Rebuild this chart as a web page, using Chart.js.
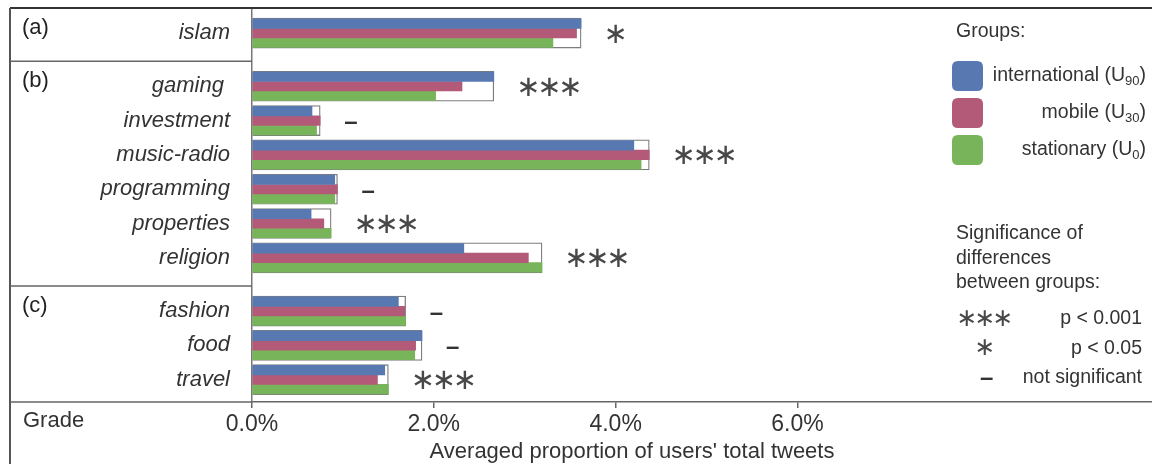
<!DOCTYPE html>
<html><head><meta charset="utf-8">
<script src="https://cdn.jsdelivr.net/npm/chart.js@4.4.1/dist/chart.umd.min.js"></script>
<style>html,body{margin:0;padding:0;background:#fff;overflow:hidden}#wrap{position:relative;width:1152px;height:464px}</style>
</head><body><div id="wrap"><canvas id="c" width="1152" height="464"></canvas></div>
<script>
// ---- data ----
const categories = ['islam', 'gaming ', 'investment', 'music-radio', 'programming', 'properties', 'religion', 'fashion', 'food', 'travel'];
const categoryGroup = [0, 1, 1, 1, 1, 1, 1, 2, 2, 2];
const groupLabels = ['(a)', '(b)', '(c)'];
const international = [3.62, 2.66, 0.66, 4.20, 0.91, 0.65, 2.33, 1.61, 1.87, 1.46];
const mobile        = [3.57, 2.31, 0.75, 4.37, 0.94, 0.79, 3.04, 1.68, 1.80, 1.38];
const stationary    = [3.31, 2.02, 0.71, 4.28, 0.91, 0.87, 3.19, 1.69, 1.79, 1.50];
const highestGroup  = [3.62, 2.66, 0.75, 4.37, 0.94, 0.87, 3.19, 1.69, 1.87, 1.50];
const significance  = ['*', '***', '-', '***', '-', '***', '***', '-', '-', '***'];
const xTickValues = [0, 2, 4, 6];
const seriesNames = ['international (U', 'mobile (U', 'stationary (U'];
const seriesSubs = ['90', '30', '0'];
const sigLegend = [['***', 'p < 0.001'], ['*', 'p < 0.05'], ['-', 'not significant']];

// ---- styling / layout ----
const COLORS = ['#5878b2', '#b35a78', '#78b45a'];
const TEXT = '#333333';
const FONT = '"Liberation Sans", Arial, sans-serif';
const GROUP_GAP = 0.55;
const positions = categories.map((c, i) => i + categoryGroup[i] * GROUP_GAP);

function toPoints(arr) { return arr.map((v, i) => ({ x: v, y: positions[i] })); }

const seriesData = [international, mobile, stationary];
const datasets = seriesData.map((arr, k) => ({
  label: seriesNames[k] + seriesSubs[k] + ')',
  data: toPoints(arr),
  backgroundColor: COLORS[k],
  borderWidth: 0,
  barThickness: 9.5,
  order: 0
}));
datasets.push({
  label: 'max',
  data: toPoints(highestGroup),
  backgroundColor: '#ffffff',
  borderColor: '#7d7d7d',
  borderWidth: 1.3,
  borderSkipped: false,
  barThickness: 30,
  grouped: false,
  order: 5
});

function drawStars(ctx, n, x0, y, spacing, size) {
  ctx.save();
  ctx.font = size + 'px "DejaVu Sans"';
  ctx.textAlign = 'center';
  ctx.textBaseline = 'middle';
  ctx.fillStyle = '#484848';
  for (let k = 0; k < n; k++) ctx.fillText('\u2217', x0 + spacing / 2 + k * spacing, y);
  ctx.restore();
}
function drawDash(ctx, x0, y) {
  ctx.save();
  ctx.font = 'bold 24px ' + FONT;
  ctx.textAlign = 'left';
  ctx.textBaseline = 'middle';
  ctx.fillStyle = TEXT;
  ctx.fillText('\u2013', x0, y);
  ctx.restore();
}
function drawSymbol(ctx, s, x0, y, spacing, size) {
  if (s === '-') drawDash(ctx, x0, y);
  else drawStars(ctx, s.length, x0, y, spacing, size);
}
function rrect(ctx, x, y, w, h, r) {
  ctx.beginPath();
  ctx.moveTo(x + r, y); ctx.lineTo(x + w - r, y); ctx.quadraticCurveTo(x + w, y, x + w, y + r);
  ctx.lineTo(x + w, y + h - r); ctx.quadraticCurveTo(x + w, y + h, x + w - r, y + h);
  ctx.lineTo(x + r, y + h); ctx.quadraticCurveTo(x, y + h, x, y + h - r);
  ctx.lineTo(x, y + r); ctx.quadraticCurveTo(x, y, x + r, y); ctx.closePath();
}

const decorations = {
  id: 'decorations',
  afterDraw(chart) {
    const ctx = chart.ctx;
    const xs = chart.scales.x, ys = chart.scales.y;
    const ca = chart.chartArea;
    ctx.save();
    // frame lines
    ctx.strokeStyle = '#333'; ctx.lineWidth = 2;
    ctx.beginPath(); ctx.moveTo(10, ca.top); ctx.lineTo(1152, ca.top); ctx.stroke();
    ctx.strokeStyle = '#555'; ctx.lineWidth = 2;
    ctx.beginPath(); ctx.moveTo(10, ca.top); ctx.lineTo(10, 464); ctx.stroke();
    ctx.strokeStyle = '#666'; ctx.lineWidth = 1.5;
    ctx.beginPath(); ctx.moveTo(10, ca.bottom); ctx.lineTo(ca.left, ca.bottom); ctx.stroke();
    for (let i = 1; i < categories.length; i++) {
      if (categoryGroup[i] !== categoryGroup[i - 1]) {
        const y = (ys.getPixelForValue(positions[i]) + ys.getPixelForValue(positions[i - 1])) / 2 + 1.5;
        ctx.beginPath(); ctx.moveTo(10, y); ctx.lineTo(ca.left, y); ctx.stroke();
      }
    }
    // group labels
    ctx.fillStyle = '#222'; ctx.font = '22px ' + FONT; ctx.textAlign = 'left'; ctx.textBaseline = 'middle';
    groupLabels.forEach((g, gi) => {
      const first = categoryGroup.indexOf(gi);
      ctx.fillText(g, 22, ys.getPixelForValue(positions[first]) - 5);
    });
    // significance marks
    categories.forEach((c, i) => {
      const x0 = xs.getPixelForValue(highestGroup[i]) + 24;
      const y = ys.getPixelForValue(positions[i]) + 2;
      drawSymbol(ctx, significance[i], x0, y, 21, 29);
    });
    // Grade + axis title
    ctx.fillStyle = TEXT; ctx.font = '22px ' + FONT; ctx.textAlign = 'left'; ctx.textBaseline = 'middle';
    ctx.fillText('Grade', 23, 421);
    ctx.textAlign = 'center';
    ctx.fillText("Averaged proportion of users' total tweets", 632, 452);
    // legend: groups
    ctx.textAlign = 'left'; ctx.font = '19.5px ' + FONT;
    ctx.fillText('Groups:', 956, 32);
    seriesNames.forEach((name, k) => {
      const cy = 76 + k * 37;
      ctx.fillStyle = COLORS[k];
      rrect(ctx, 952, cy - 15, 31, 30, 6); ctx.fill();
      ctx.fillStyle = TEXT;
      const fMain = '19.5px ' + FONT, fSub = '13px ' + FONT;
      ctx.font = fMain; const w1 = ctx.measureText(name).width; const w3 = ctx.measureText(')').width;
      ctx.font = fSub; const w2 = ctx.measureText(seriesSubs[k]).width;
      let x = 1146 - (w1 + w2 + w3);
      ctx.font = fMain; ctx.fillText(name, x, cy); x += w1;
      ctx.font = fSub; ctx.fillText(seriesSubs[k], x, cy + 5); x += w2;
      ctx.font = fMain; ctx.fillText(')', x, cy);
    });
    // legend: significance
    ctx.font = '19.5px ' + FONT; ctx.fillStyle = TEXT; ctx.textAlign = 'left';
    ['Significance of', 'differences', 'between groups:'].forEach((t, i) => ctx.fillText(t, 956, 234 + i * 24.5));
    sigLegend.forEach(([s, t], i) => {
      const cy = 319 + i * 29.5;
      if (s === '-') drawDash(ctx, 980, cy);
      else drawStars(ctx, s.length, 985 - s.length * 9, cy, 18, 25);
      ctx.font = '19.5px ' + FONT; ctx.fillStyle = TEXT; ctx.textAlign = 'right'; ctx.textBaseline = 'middle';
      ctx.fillText(t, 1142, cy);
    });
    ctx.restore();
  }
};

new Chart(document.getElementById('c'), {
  type: 'bar',
  data: { datasets },
  options: {
    indexAxis: 'y',
    responsive: false,
    animation: false,
    layout: { padding: { left: 10, top: 8, right: 0, bottom: 0 } },
    plugins: { legend: { display: false }, tooltip: { enabled: false } },
    scales: {
      x: {
        type: 'linear', min: 0, max: 9.9,
        afterBuildTicks: s => { s.ticks = xTickValues.map(v => ({ value: v })); },
        afterFit: s => { s.height = 62; s.paddingLeft = 0; s.paddingRight = 0; },
        ticks: { callback: v => v.toFixed(1) + '%', color: TEXT, font: { family: FONT, size: 23 }, padding: 3, maxRotation: 0 },
        grid: { drawOnChartArea: false, drawTicks: true, tickLength: 6, color: '#666', lineWidth: 1.5 },
        border: { color: '#666', width: 1.5 }
      },
      y: {
        type: 'linear', reverse: true, min: -0.73, max: 10.75, z: 1, offset: false,
        afterBuildTicks: s => { s.ticks = positions.map(v => ({ value: v })); },
        afterFit: s => { s.width = 242; s.paddingTop = 0; s.paddingBottom = 0; },
        ticks: { autoSkip: false, callback: (v, i) => categories[i], color: TEXT, font: { family: FONT, size: 22, style: 'italic' }, padding: 22 },
        grid: { display: false, drawTicks: false, offset: false },
        border: { color: '#777', width: 1.5 }
      }
    }
  },
  plugins: [decorations]
});
</script>
</body></html>
